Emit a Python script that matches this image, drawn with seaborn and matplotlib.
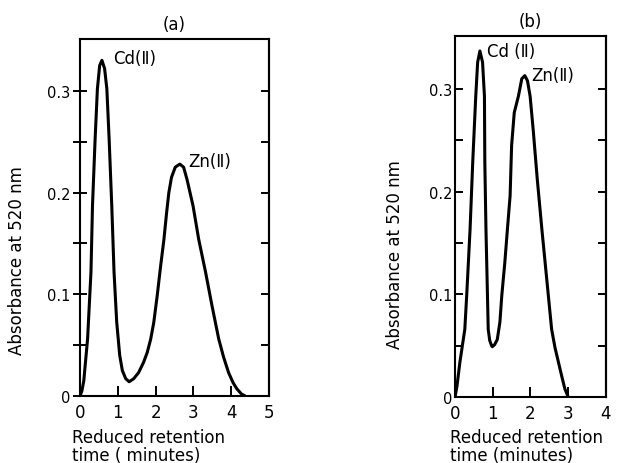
import matplotlib
matplotlib.use("Agg")
import matplotlib.pyplot as plt
import seaborn as sns
import pandas as pd

# Chromatogram (a): reduced retention time (min) vs absorbance at 520 nm
time_a = [0, 0.05, 0.1, 0.2, 0.29, 0.33, 0.4, 0.46, 0.52, 0.58, 0.65, 0.71,
          0.77, 0.84, 0.9, 0.97, 1.05, 1.12, 1.21, 1.3, 1.42, 1.55, 1.68,
          1.78, 1.87, 1.95, 2.04, 2.13, 2.22, 2.29, 2.35, 2.42, 2.52, 2.64,
          2.74, 2.83, 2.99, 3.14, 3.32, 3.49, 3.67, 3.8, 3.93, 4.05, 4.15,
          4.27, 4.37]
abs_a = [0, 0.005, 0.015, 0.056, 0.122, 0.187, 0.253, 0.302, 0.325, 0.33,
         0.322, 0.302, 0.253, 0.187, 0.122, 0.073, 0.04, 0.025, 0.017, 0.014,
         0.017, 0.023, 0.033, 0.043, 0.056, 0.072, 0.098, 0.127, 0.154,
         0.18, 0.2, 0.215, 0.225, 0.228, 0.225, 0.213, 0.187, 0.154, 0.122,
         0.089, 0.056, 0.038, 0.023, 0.013, 0.007, 0.002, 0]

# Chromatogram (b)
time_b = [0, 0.05, 0.13, 0.26, 0.31, 0.4, 0.47, 0.55, 0.6, 0.66, 0.73, 0.78,
          0.79, 0.82, 0.86, 0.88, 0.92, 0.97, 0.99, 1.05, 1.12, 1.19, 1.24,
          1.32, 1.39, 1.46, 1.5, 1.57, 1.68, 1.77, 1.85, 1.92, 1.99, 2.07,
          2.18, 2.3, 2.43, 2.56, 2.65, 2.74, 2.83, 2.91, 3.0]
abs_b = [0, 0.01, 0.034, 0.066, 0.099, 0.164, 0.229, 0.293, 0.326, 0.337,
         0.326, 0.293, 0.229, 0.164, 0.099, 0.066, 0.055, 0.05, 0.049, 0.051,
         0.056, 0.073, 0.099, 0.131, 0.164, 0.196, 0.245, 0.277, 0.293, 0.31,
         0.313, 0.308, 0.293, 0.261, 0.212, 0.164, 0.115, 0.066, 0.048,
         0.034, 0.02, 0.008, 0]

ytick_vals = [0, 0.05, 0.1, 0.15, 0.2, 0.25, 0.3]
ytick_text = ["0", "", "0.1", "", "0.2", "", "0.3"]

panels = [
    dict(name="(a)", t=time_a, a=abs_a, xmax=5, ymax=0.351,
         pos=[0.1264, 0.1444, 0.2986, 0.7694],
         cd_text="Cd(Ⅱ)", zn_text="Zn(Ⅱ)",
         cd=(0.87, 0.332), zn=(2.87, 0.231),
         xlabel="Reduced retention\ntime ( minutes)",
         ylab_xy=(17, 261), xlab_xy=(72, 447), left_dir="inout", left_len=10),
    dict(name="(b)", t=time_b, a=abs_b, xmax=4, ymax=0.3516,
         pos=[0.7188, 0.1422, 0.2385, 0.7781],
         cd_text="Cd (Ⅱ)", zn_text="Zn(Ⅱ)",
         cd=(0.85, 0.337), zn=(2.01, 0.314),
         xlabel="Reduced retention\ntime (minutes)",
         ylab_xy=(395, 255), xlab_xy=(450, 447), left_dir="in", left_len=6),
]

sns.set_style("ticks")
plt.rcParams["font.family"] = ["DejaVu Sans"]
plt.rcParams["axes.edgecolor"] = "black"
plt.rcParams["text.color"] = "black"
plt.rcParams["xtick.color"] = "black"
plt.rcParams["ytick.color"] = "black"

W, H = 633, 464
fig = plt.figure(figsize=(W / 100, H / 100), dpi=100)

for p in panels:
    ax = fig.add_axes(p["pos"])
    df = pd.DataFrame({"time": p["t"], "absorbance": p["a"]})
    sns.lineplot(data=df, x="time", y="absorbance", ax=ax, color="black",
                 linewidth=2.2, estimator=None, sort=False)
    ax.set_xlim(0, p["xmax"])
    ax.set_ylim(0, p["ymax"])
    ax.set_xticks(range(0, p["xmax"] + 1))
    ax.set_yticks(ytick_vals)
    ax.set_yticklabels(ytick_text)
    ax.set_xlabel("")
    ax.set_ylabel("")
    for s in ax.spines.values():
        s.set_visible(True)
        s.set_linewidth(1.5)
    ax.tick_params(axis="x", which="major", bottom=True, direction="in",
                   length=7, width=1.4, labelsize=12, pad=5)
    ax.tick_params(axis="y", direction=p["left_dir"], length=p["left_len"],
                   width=1.4, labelsize=10.5, pad=2)
    # right-hand ticks pointing inward
    sec = ax.secondary_yaxis("right")
    sec.set_yticks(ytick_vals)
    sec.set_yticklabels([])
    sec.tick_params(axis="y", direction="in", length=6, width=1.4)
    sec.spines["right"].set_linewidth(1.5)

    ax.set_title(p["name"], fontsize=12, pad=7)
    ax.text(p["cd"][0], p["cd"][1], p["cd_text"], fontsize=12, va="center",
            ha="left")
    ax.text(p["zn"][0], p["zn"][1], p["zn_text"], fontsize=12, va="center",
            ha="left")
    fig.text(p["ylab_xy"][0] / W, 1 - p["ylab_xy"][1] / H,
             "Absorbance at 520 nm", rotation=90, fontsize=12,
             ha="center", va="center")
    fig.text(p["xlab_xy"][0] / W, 1 - p["xlab_xy"][1] / H, p["xlabel"],
             fontsize=12, ha="left", va="center", linespacing=1.0)

fig.savefig("out.png", dpi=100)
